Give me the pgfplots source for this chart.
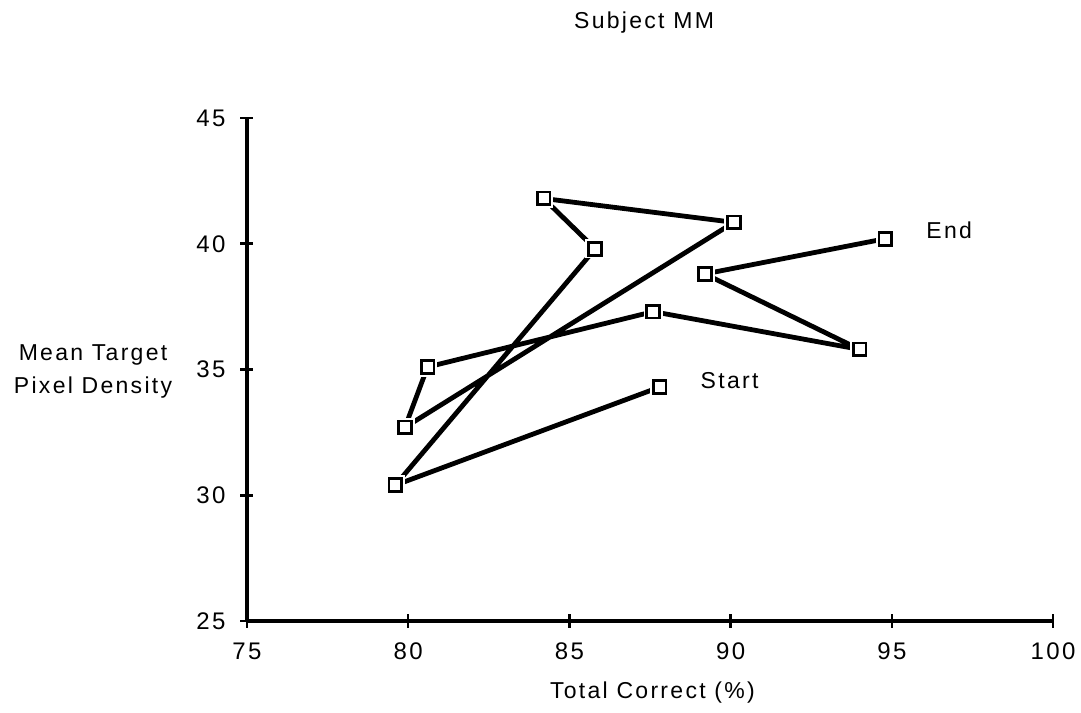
\documentclass[border=0pt]{standalone}
\usepackage{fontspec}
\setmainfont{Liberation Sans}
\newfontfamily\lsfont[LetterSpace=10]{Liberation Sans}
\newfontfamily\tkfont[LetterSpace=10]{Liberation Sans}
\usepackage{pgfplots}
\pgfplotsset{compat=1.18}
\pgfplotstableread{
x y
87.8 34.3
79.6 30.4
85.8 39.8
84.2 41.8
90.1 40.85
79.9 32.7
80.6 35.1
87.6 37.3
94.0 35.8
89.2 38.8
94.8 40.2
}\datatable
\begin{document}
\begin{tikzpicture}
\path[use as bounding box] (-123.5pt,-45.5pt) rectangle (417pt,310.5pt);
\begin{axis}[
  at={(0,0)}, anchor=south west,
  scale only axis,
  width=403pt, height=251.5pt,
  xmin=75, xmax=100, ymin=25, ymax=45,
  xtick={75,80,...,100}, ytick={25,30,...,45},
  axis x line=bottom, axis y line=left,
  axis line style={-, line width=1.8pt},
  tick style={line width=1.3pt, black},
  tick align=center, major tick length=6.5pt,
  clip=false,
  /pgf/number format/assume math mode=true,
  ticklabel style={font=\tkfont\fontsize{12}{14}\selectfont},
  xticklabel style={yshift=-4pt},
  yticklabel style={xshift=-4pt},
]
\addplot[black, line width=2.4pt, line join=round, no markers] table {\datatable};
\addplot[only marks, mark=square*, mark size=4.6pt,
  mark options={fill=white, draw=white, line width=0pt}] table {\datatable};
\addplot[only marks, mark=square*, mark size=3.2pt,
  mark options={fill=white, draw=black, line width=1.4pt}] table {\datatable};
\node[anchor=west, font=\lsfont\fontsize{11.5}{13}\selectfont] at (axis cs:87.8,34.3) [xshift=17pt, yshift=3.5pt] {Start};
\node[anchor=west, font=\lsfont\fontsize{11.5}{13}\selectfont] at (axis cs:94.8,40.2) [xshift=17pt, yshift=4pt] {End};
\node[font=\lsfont\fontsize{11.5}{13}\selectfont] at (rel axis cs:0.4926,1.189) {Subject MM};
\node[font=\lsfont\fontsize{11.5}{16.5}\selectfont, align=center] at (rel axis cs:-0.191,0.497) {Mean Target\\Pixel Density};
\node[font=\lsfont\fontsize{11.5}{13}\selectfont] at (rel axis cs:0.503,-0.143) {Total Correct (\%)};
\end{axis}
\end{tikzpicture}
\end{document}
